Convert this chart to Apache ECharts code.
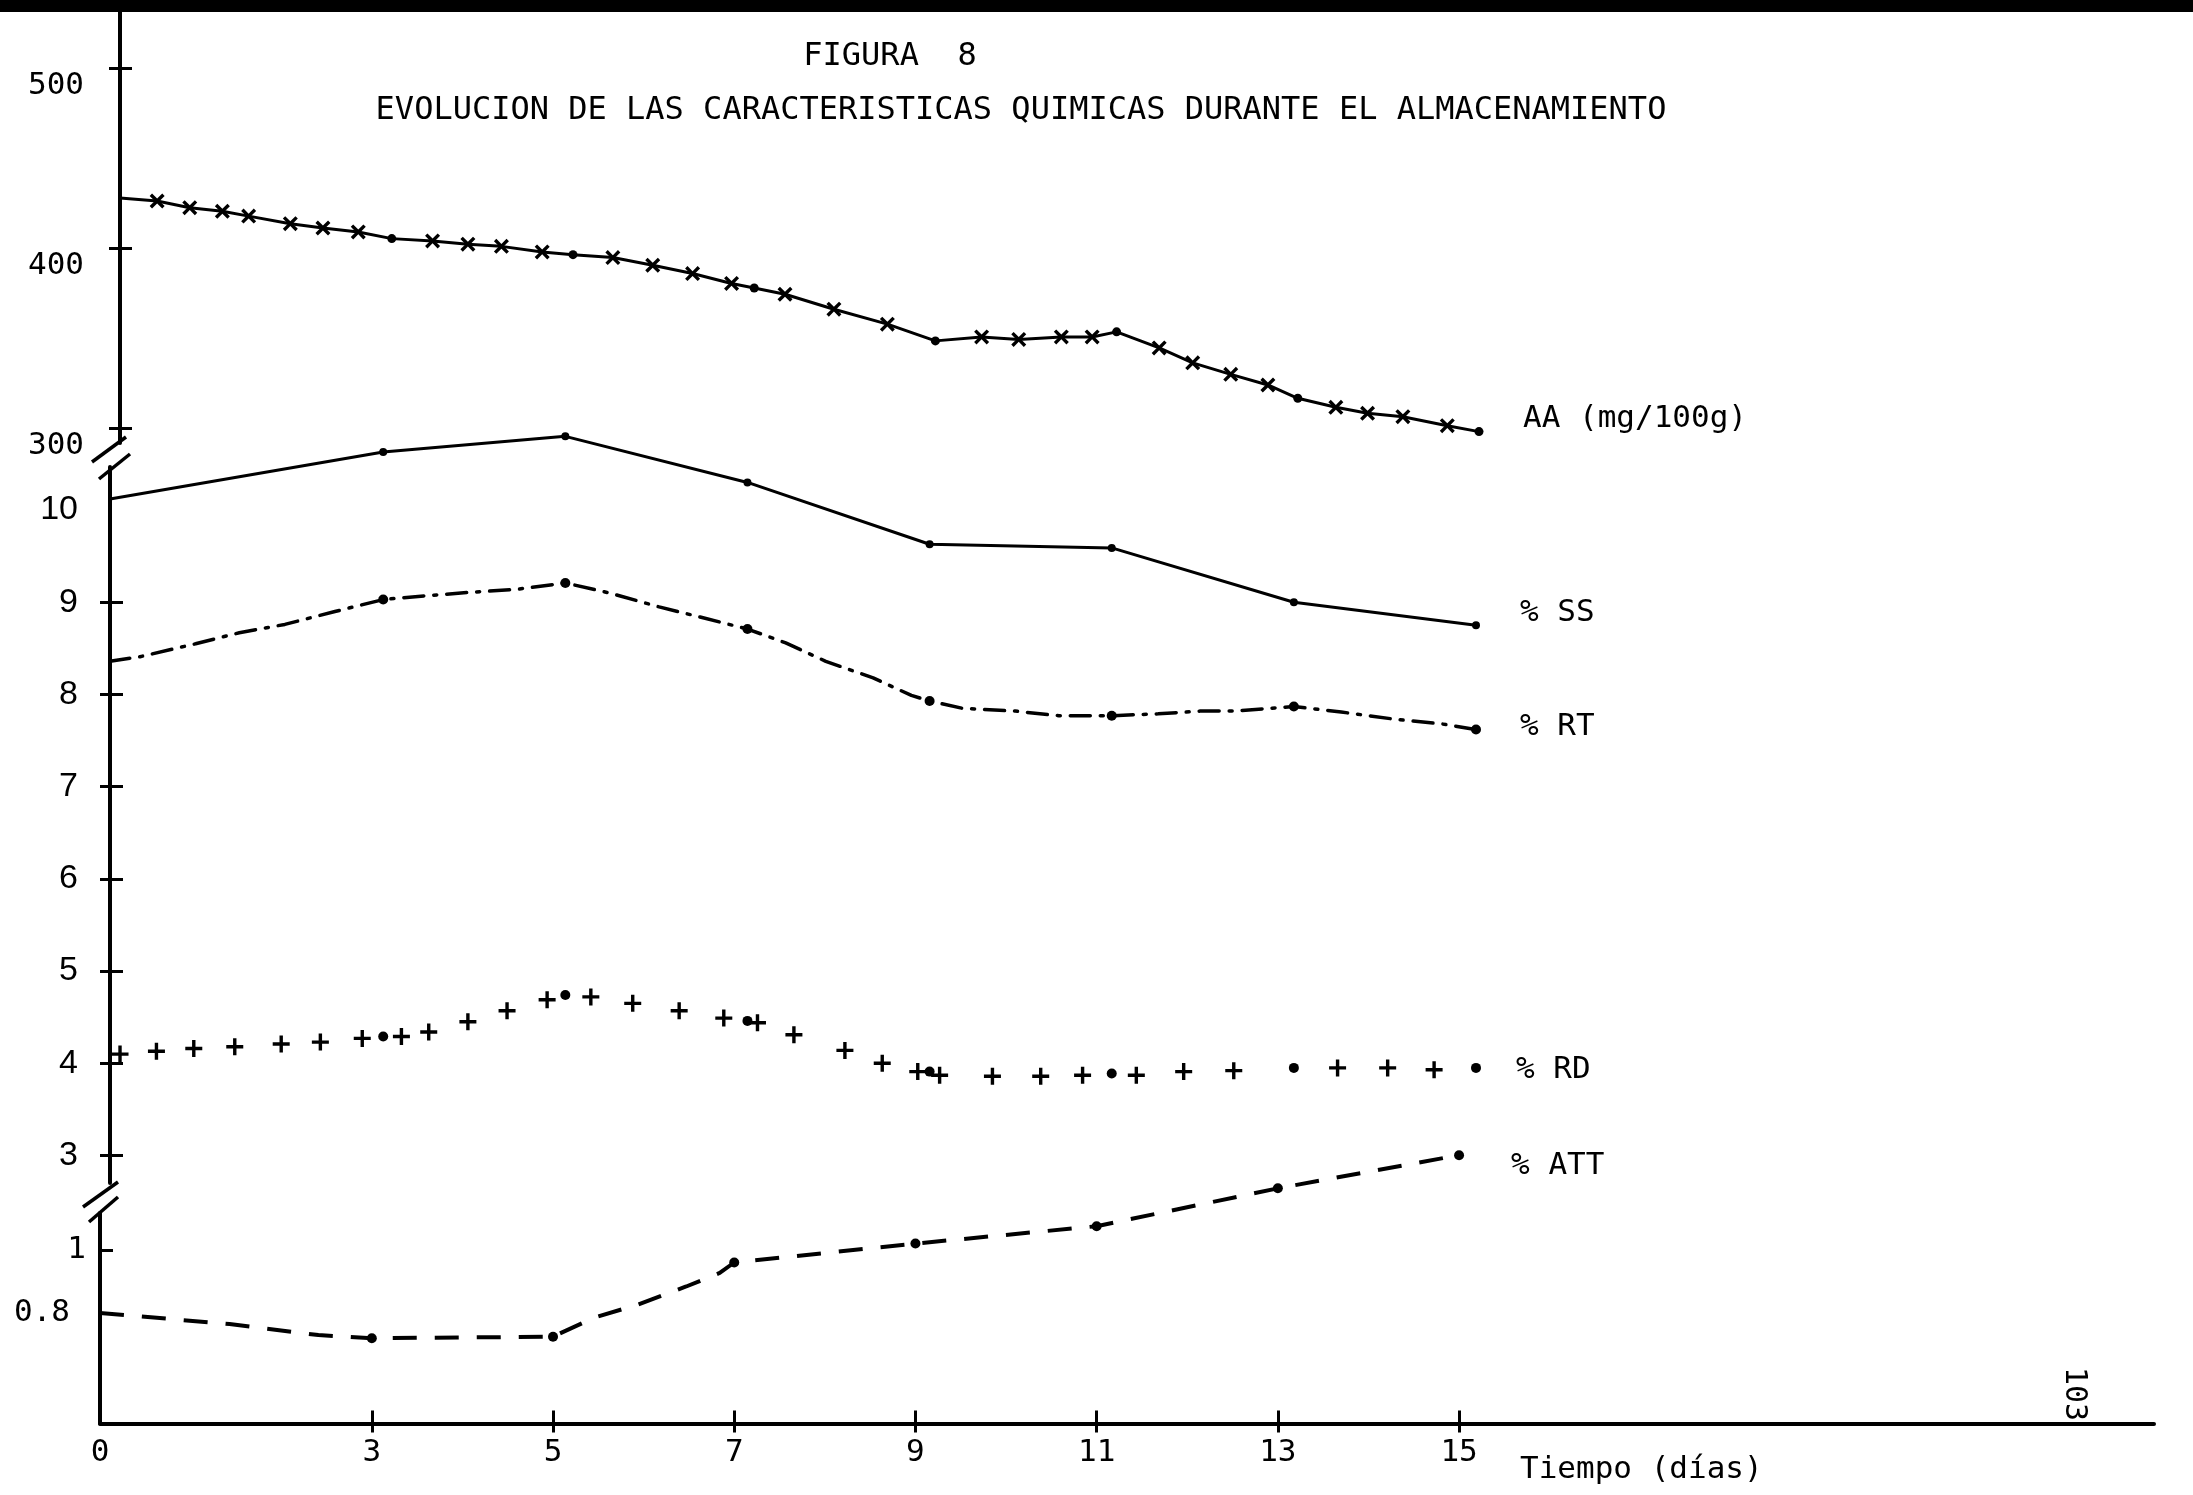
<!DOCTYPE html>
<html>
<head>
<meta charset="utf-8">
<script src="https://cdn.jsdelivr.net/npm/echarts@6/dist/echarts.min.js"></script>
<style>
html,body{margin:0;padding:0;background:#fff;}
#chart{width:2193px;height:1495px;}
</style>
</head>
<body>
<div id="chart"></div>
<script>
// ---------- data ----------
const days = [0, 3, 5, 7, 9, 11, 13, 15];
const xTickLabels = [0, 3, 5, 7, 9, 11, 13, 15];
const topTicks = [300, 400, 500];
const midTicks = [3, 4, 5, 6, 7, 8, 9, 10];
const lowTicks = [0.8, 1];

// AA (mg/100g): measured points (dots) and the cross marks along the curve
const aaDots = [427.7, 405.2, 396.3, 377.8, 348.4, 353.4, 316.5, 298.0];
const aaCrossDays = [0.41,0.77,1.13,1.42,1.88,2.24,2.63,3.45,3.84,4.21,4.66,5.44,5.88,6.32,6.75,7.34,7.88,8.47,9.51,9.92,10.39,10.73,11.47,11.84,12.26,12.67,13.42,13.77,14.16,14.65];
const aaCrossVals = [426.1,422.4,420.4,417.7,413.5,411.1,408.9,403.9,402.1,400.9,397.8,394.7,390.4,385.8,380.3,374.3,366.0,357.7,350.6,349.2,350.6,350.6,344.5,336.2,329.8,323.9,311.5,308.2,306.3,301.3];

// % SS
const ssVals = [10.12, 10.63, 10.80, 10.30, 9.63, 9.59, 9.00, 8.75];

// % RT: measured points and intermediate points of the drawn curve
const rtVals = [8.36, 9.03, 9.21, 8.71, 7.93, 7.77, 7.87, 7.62];
const rtCurveDays = [0.33,0.94,1.42,1.92,2.47,3.46,3.98,4.46,5.49,6.03,6.48,7.42,7.86,8.38,8.80,9.36,9.94,10.42,11.51,11.97,12.34,13.52,14.12,14.63];
const rtCurveVals = [8.41,8.55,8.67,8.76,8.90,9.07,9.11,9.14,9.10,8.95,8.84,8.56,8.36,8.18,7.99,7.85,7.82,7.77,7.79,7.82,7.82,7.81,7.73,7.68];

// % RD: dots and plus marks
const rdDotDays = [3, 5, 7, 9, 11, 13, 15];
const rdDotVals = [4.29, 4.74, 4.46, 3.91, 3.89, 3.95, 3.95];
const rdPlusDays = [0.11,0.51,0.92,1.37,1.88,2.31,2.77,3.20,3.50,3.93,4.36,4.80,5.28,5.74,6.25,6.74,7.11,7.51,8.07,8.48,8.87,9.11,9.69,10.22,10.68,11.27,11.79,12.34,13.48,14.03,14.54];
const rdPlusVals = [4.10,4.13,4.16,4.18,4.21,4.23,4.27,4.29,4.34,4.45,4.57,4.69,4.72,4.65,4.57,4.49,4.44,4.31,4.14,4.00,3.91,3.87,3.86,3.86,3.87,3.87,3.91,3.92,3.95,3.95,3.93];

// % ATT
const attVals = [0.80, 0.72, 0.725, 0.96, 1.02, 1.075, 1.195, 1.30];
const attCurveDays = [1.43, 2.41, 5.45, 5.93, 6.47, 6.84];
const attCurveVals = [0.765, 0.73, 0.785, 0.826, 0.884, 0.927];

const seriesNames = ['AA (mg/100g)', '% SS', '% RT', '% RD', '% ATT'];

// ---------- styling helpers ----------
const MONO = "'DejaVu Sans Mono', monospace";
const SANS = "'Liberation Sans', Arial, sans-serif";
const BLK = '#000';
const xPath = 'path://M1.6,0 L5,3.4 L8.4,0 L10,1.6 L6.6,5 L10,8.4 L8.4,10 L5,6.6 L1.6,10 L0,8.4 L3.4,5 L0,1.6 Z';
const plusPath = 'path://M4,0 L6,0 L6,4 L10,4 L10,6 L6,6 L6,10 L4,10 L4,6 L0,6 L0,4 L4,4 Z';

function items(ds, vs, symbol, size) {
  return ds.map((d, i) => ({ value: [d, vs[i]], symbol: (d === 0 && symbol === 'circle') ? 'none' : symbol, symbolSize: size }));
}
function merged(...groups) {
  return [].concat(...groups).sort((a, b) => a.value[0] - b.value[0]);
}

const chart = echarts.init(document.getElementById('chart'));

// geometry
const G = {
  A: { left: 120, top: 10, width: 1359, height: 433 },
  B: { left: 110, top: 467, width: 1366, height: 716 },
  C: { left: 100, top: 1213, width: 2054, height: 210.5 }
};

function yAx(grid, min, max, ticks, labels, opt) {
  return {
    type: 'value', gridIndex: grid, position: 'left', min: min, max: max, splitLine: { show: false },
    axisLine: { show: true, onZero: false, lineStyle: { color: BLK, width: 4 } },
    axisTick: { show: ticks.length > 0 && opt.outLen > 0, customValues: ticks, length: opt.outLen, lineStyle: { color: BLK, width: 3 } },
    axisLabel: Object.assign({ show: true, customValues: labels, color: BLK }, opt.label)
  };
}
function yInner(grid, min, max, ticks, len) {
  return {
    type: 'value', gridIndex: grid, position: 'left', offset: 0, min: min, max: max, splitLine: { show: false },
    axisLine: { show: false, onZero: false },
    axisTick: { show: true, inside: true, customValues: ticks, length: len, lineStyle: { color: BLK, width: 3 } },
    axisLabel: { show: false }
  };
}

const option = {
  animation: false,
  backgroundColor: '#fff',
  textStyle: { fontFamily: MONO, color: BLK },
  grid: [
    Object.assign({ outerBoundsMode: 'none', containLabel: false }, G.A),
    Object.assign({ outerBoundsMode: 'none', containLabel: false }, G.B),
    Object.assign({ outerBoundsMode: 'none', containLabel: false }, G.C)
  ],
  xAxis: [
    { type: 'value', gridIndex: 0, min: 0, max: 15, show: false },
    { type: 'value', gridIndex: 1, min: 0, max: 15, show: false },
    {
      type: 'value', gridIndex: 2, position: 'bottom', min: 0, max: 22.67, splitLine: { show: false },
      axisLine: { show: true, onZero: false, lineStyle: { color: BLK, width: 4 } },
      axisTick: { show: true, customValues: xTickLabels.slice(1), length: 9, lineStyle: { color: BLK, width: 3 } },
      axisLabel: { show: true, customValues: xTickLabels, color: BLK, fontFamily: MONO, fontSize: 31, margin: 14 }
    },
    {
      type: 'value', gridIndex: 2, position: 'bottom', offset: 0, min: 0, max: 22.67, splitLine: { show: false },
      axisLine: { show: false, onZero: false },
      axisTick: { show: true, inside: true, customValues: xTickLabels.slice(1), length: 13, lineStyle: { color: BLK, width: 3 } },
      axisLabel: { show: false }
    }
  ],
  yAxis: [
    yAx(0, 291.67, 532.2, topTicks, topTicks, { outLen: 11, label: { fontFamily: MONO, fontSize: 31, margin: 36, verticalAlign: 'top', padding: [2, 0, 0, 0] } }),
    yInner(0, 291.67, 532.2, topTicks, 12),
    yAx(1, 2.7017, 10.4675, midTicks.slice(0, 7), midTicks, { outLen: 10, label: { fontFamily: SANS, fontSize: 34, margin: 32 } }),
    yInner(1, 2.7017, 10.4675, midTicks.slice(0, 7), 13),
    yAx(2, 0.45, 1.1168, [], lowTicks, { outLen: 0, label: {
      fontFamily: MONO, fontSize: 31, margin: 14,
      formatter: v => (Math.abs(v - 1) < 1e-6 ? '{a|1}' : '{b|0.8}'),
      rich: { a: { fontFamily: MONO, fontSize: 31, color: BLK }, b: { fontFamily: MONO, fontSize: 31, color: BLK, padding: [0, 16, 0, 0] } }
    } }),
    yInner(2, 0.45, 1.1168, lowTicks, 13)
  ],
  series: [
    {
      name: seriesNames[0], type: 'line', xAxisIndex: 0, yAxisIndex: 0, clip: false, showAllSymbol: true,
      data: merged(items(days, aaDots, 'circle', 9), items(aaCrossDays, aaCrossVals, xPath, 15)),
      lineStyle: { color: BLK, width: 3 }, itemStyle: { color: BLK },
      endLabel: { show: true, formatter: seriesNames[0], color: BLK, fontFamily: MONO, fontSize: 31, distance: 44, offset: [0, -13] }
    },
    {
      name: seriesNames[1], type: 'line', xAxisIndex: 1, yAxisIndex: 2, clip: false,
      data: items(days, ssVals, 'circle', 8),
      lineStyle: { color: BLK, width: 3 }, itemStyle: { color: BLK },
      endLabel: { show: true, formatter: seriesNames[1], color: BLK, fontFamily: MONO, fontSize: 31, distance: 44, offset: [0, -12] }
    },
    {
      name: seriesNames[2], type: 'line', xAxisIndex: 1, yAxisIndex: 2, clip: false, showAllSymbol: true,
      data: merged(items(days, rtVals, 'circle', 10), items(rtCurveDays, rtCurveVals, 'none', 0)),
      lineStyle: { color: BLK, width: 3.5, type: [20, 10, 3, 10], cap: 'round' }, itemStyle: { color: BLK },
      endLabel: { show: true, formatter: seriesNames[2], color: BLK, fontFamily: MONO, fontSize: 31, distance: 44, offset: [0, -3] }
    },
    {
      name: seriesNames[3], type: 'line', xAxisIndex: 1, yAxisIndex: 2, clip: false, showAllSymbol: true,
      data: merged(items(rdDotDays, rdDotVals, 'circle', 10), items(rdPlusDays, rdPlusVals, plusPath, 17)),
      lineStyle: { opacity: 0, width: 0 }, itemStyle: { color: BLK },
      endLabel: { show: true, formatter: seriesNames[3], color: BLK, fontFamily: MONO, fontSize: 31, distance: 40, offset: [0, 2] }
    },
    {
      name: seriesNames[4], type: 'line', xAxisIndex: 2, yAxisIndex: 4, clip: false, showAllSymbol: true,
      data: merged(items(days, attVals, 'circle', 10), items(attCurveDays, attCurveVals, 'none', 0)),
      lineStyle: { color: BLK, width: 4, type: [24, 18] }, itemStyle: { color: BLK },
      endLabel: { show: true, formatter: seriesNames[4], color: BLK, fontFamily: MONO, fontSize: 31, distance: 52, offset: [0, 11] }
    }
  ],
  graphic: [
    { type: 'rect', shape: { x: 0, y: 0, width: 2193, height: 12 }, style: { fill: BLK }, z: 10 },
    { type: 'text', x: 890, y: 57, style: { text: 'FIGURA  8', fontFamily: MONO, fontSize: 32, fill: BLK, align: 'center', verticalAlign: 'middle' } },
    { type: 'text', x: 1021, y: 111, style: { text: 'EVOLUCION DE LAS CARACTERISTICAS QUIMICAS DURANTE EL ALMACENAMIENTO', fontFamily: MONO, fontSize: 32, fill: BLK, align: 'center', verticalAlign: 'middle' } },
    { type: 'text', x: 1520, y: 1470, style: { text: 'Tiempo (días)', fontFamily: MONO, fontSize: 31, fill: BLK, align: 'left', verticalAlign: 'middle' } },
    { type: 'text', x: 2074, y: 1394, rotation: -Math.PI / 2, style: { text: '103', fontFamily: MONO, fontSize: 30, fill: BLK, align: 'center', verticalAlign: 'middle' } },
    // axis break marks
    { type: 'line', shape: { x1: 92, y1: 462, x2: 126, y2: 437 }, style: { stroke: BLK, lineWidth: 3.5 } },
    { type: 'line', shape: { x1: 99, y1: 479, x2: 130, y2: 454 }, style: { stroke: BLK, lineWidth: 3.5 } },
    { type: 'line', shape: { x1: 83, y1: 1207, x2: 118, y2: 1182 }, style: { stroke: BLK, lineWidth: 3.5 } },
    { type: 'line', shape: { x1: 89, y1: 1222, x2: 118, y2: 1197 }, style: { stroke: BLK, lineWidth: 3.5 } }
  ]
};
chart.setOption(option);
</script>
</body>
</html>
